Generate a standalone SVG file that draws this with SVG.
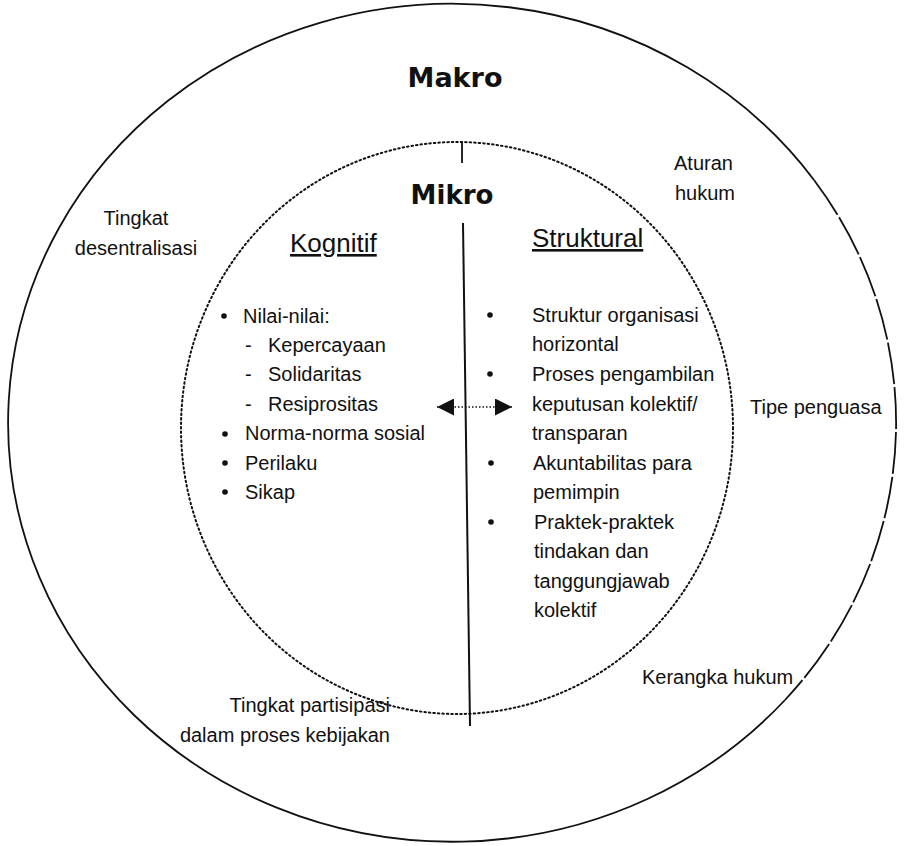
<svg xmlns="http://www.w3.org/2000/svg" width="904" height="846" viewBox="0 0 904 846">
  <style>
    .t { font-family: "Liberation Sans", Arial, sans-serif; font-size: 20px; fill: #111; }
    .h { font-family: "Liberation Sans", Arial, sans-serif; font-size: 26px; fill: #111; text-decoration: underline; }
    .b { font-family: "DejaVu Sans", "Liberation Sans", sans-serif; font-weight: bold; fill: #111; text-anchor: middle; }
    .bul { fill: #111; }
    .ring { fill: none; stroke: #111; stroke-width: 1.8; }
  </style>
  <defs>
    <marker id="ah" viewBox="0 0 10 10" refX="10" refY="5" markerWidth="18" markerHeight="17" markerUnits="userSpaceOnUse" orient="auto-start-reverse">
      <path d="M0,0 L10,5 L0,10 Z" fill="#111"/>
    </marker>
  </defs>
  <rect width="904" height="846" fill="#fff"/>

  <g id="makro">
    <path class="ring" d="M 814,180 A 444 419 0 1 0 785,700"/>
    <path class="ring" d="M 814,180 A 444 419 0 0 1 785,700" stroke-dasharray="42 3"/>
    <text class="b" x="455" y="87" font-size="27">Makro</text>
  </g>

  <g id="mikro">
    <ellipse cx="457" cy="428" rx="276" ry="286" fill="none" stroke="#111" stroke-width="2" stroke-dasharray="1.5 3" stroke-linecap="round"/>
    <text class="b" x="452" y="204" font-size="26">Mikro</text>
  </g>

  <g id="kognitif">
    <text class="h" x="290" y="252">Kognitif</text>
    <circle class="bul" cx="224" cy="316" r="2.8"/>
    <text class="t" x="243" y="323">Nilai-nilai:</text>
    <text class="t" x="245" y="352">-</text>
    <text class="t" x="268" y="352">Kepercayaan</text>
    <text class="t" x="245" y="381">-</text>
    <text class="t" x="268" y="381">Solidaritas</text>
    <text class="t" x="245" y="411">-</text>
    <text class="t" x="268" y="411">Resiprositas</text>
    <circle class="bul" cx="225" cy="434" r="2.8"/>
    <text class="t" x="245" y="440">Norma-norma sosial</text>
    <circle class="bul" cx="225" cy="463" r="2.8"/>
    <text class="t" x="245" y="470">Perilaku</text>
    <circle class="bul" cx="225" cy="492" r="2.8"/>
    <text class="t" x="245" y="499">Sikap</text>
  </g>

  <g id="struktural">
    <text class="h" x="532" y="247">Struktural</text>
    <circle class="bul" cx="490" cy="315" r="2.8"/>
    <text class="t" x="532" y="322">Struktur organisasi</text>
    <text class="t" x="532" y="351">horizontal</text>
    <circle class="bul" cx="490" cy="374" r="2.8"/>
    <text class="t" x="532" y="381">Proses pengambilan</text>
    <text class="t" x="532" y="411">keputusan kolektif/</text>
    <text class="t" x="532" y="440">transparan</text>
    <circle class="bul" cx="491" cy="463" r="2.8"/>
    <text class="t" x="533" y="470">Akuntabilitas para</text>
    <text class="t" x="533" y="499">pemimpin</text>
    <circle class="bul" cx="491" cy="522" r="2.8"/>
    <text class="t" x="534" y="529">Praktek-praktek</text>
    <text class="t" x="534" y="558">tindakan dan</text>
    <text class="t" x="534" y="588">tanggungjawab</text>
    <text class="t" x="534" y="617">kolektif</text>
  </g>

  <g id="label-desentralisasi">
    <text class="t" x="136" y="225" text-anchor="middle">Tingkat</text>
    <text class="t" x="136" y="255" text-anchor="middle">desentralisasi</text>
  </g>
  <g id="label-aturan">
    <text class="t" x="674" y="170">Aturan</text>
    <text class="t" x="675" y="200">hukum</text>
  </g>
  <g id="label-tipe">
    <text class="t" x="750" y="414">Tipe penguasa</text>
  </g>
  <g id="label-kerangka">
    <text class="t" x="642" y="684">Kerangka hukum</text>
  </g>
  <g id="label-partisipasi">
    <text class="t" x="390" y="712" text-anchor="end">Tingkat partisipasi</text>
    <text class="t" x="390" y="742" text-anchor="end">dalam proses kebijakan</text>
  </g>

  <g id="connectors" stroke="#111" fill="none">
    <line x1="462" y1="142" x2="462" y2="163" stroke-width="1.8"/>
    <line x1="463" y1="223" x2="470" y2="726" stroke-width="2"/>
    <line x1="437" y1="407" x2="512" y2="407" stroke-width="1.5" stroke-dasharray="1.5 2" marker-end="url(#ah)" marker-start="url(#ah)"/>
  </g>
</svg>
